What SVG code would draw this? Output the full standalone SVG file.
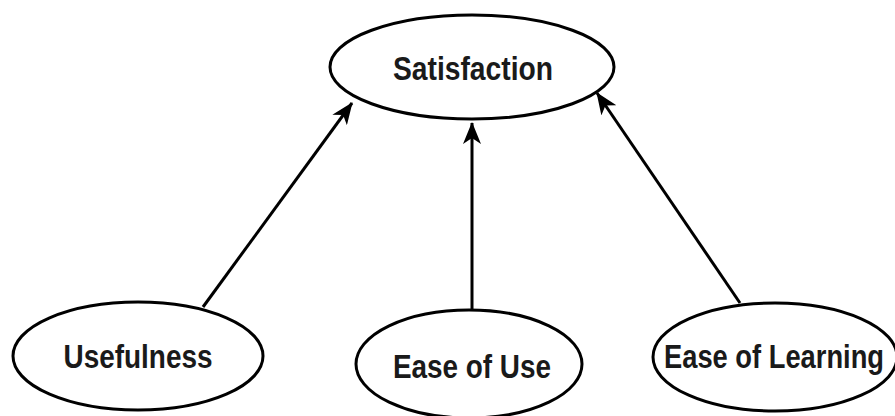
<svg xmlns="http://www.w3.org/2000/svg" width="895" height="416" viewBox="0 0 895 416">
  <style>
    .node ellipse { fill: #ffffff; stroke: #000000; stroke-width: 3; }
    .node text { font-family: "Liberation Sans", Arial, sans-serif; font-weight: bold; font-size: 33px; fill: #1a1a1a; text-anchor: middle; }
    .edge { stroke: #000000; stroke-width: 3; fill: none; marker-end: url(#arrow); }
  </style>
  <defs>
    <marker id="arrow" markerUnits="userSpaceOnUse" markerWidth="22" markerHeight="18" refX="21" refY="9" orient="auto">
      <path d="M0,0 L22,9 L0,18 L6,9 z" fill="#000000"/>
    </marker>
  </defs>
  <rect width="895" height="416" fill="#ffffff"/>
  <g id="connectors">
    <line class="edge" x1="203" y1="307" x2="352" y2="103"/>
    <line class="edge" x1="472" y1="310" x2="472" y2="123"/>
    <line class="edge" x1="740" y1="303" x2="597" y2="93"/>
  </g>
  <g id="satisfaction" class="node">
    <ellipse cx="472" cy="67" rx="142" ry="52"/>
    <text x="473" y="80" textLength="160" lengthAdjust="spacingAndGlyphs">Satisfaction</text>
  </g>
  <g id="usefulness" class="node">
    <ellipse cx="138" cy="356" rx="125" ry="54"/>
    <text x="138" y="368" textLength="149" lengthAdjust="spacingAndGlyphs">Usefulness</text>
  </g>
  <g id="ease-of-use" class="node">
    <ellipse cx="469" cy="364" rx="113" ry="54"/>
    <text x="472" y="378" textLength="158" lengthAdjust="spacingAndGlyphs">Ease of Use</text>
  </g>
  <g id="ease-of-learning" class="node">
    <ellipse cx="775" cy="357" rx="122" ry="54"/>
    <text x="774" y="368" textLength="220" lengthAdjust="spacingAndGlyphs">Ease of Learning</text>
  </g>
</svg>
